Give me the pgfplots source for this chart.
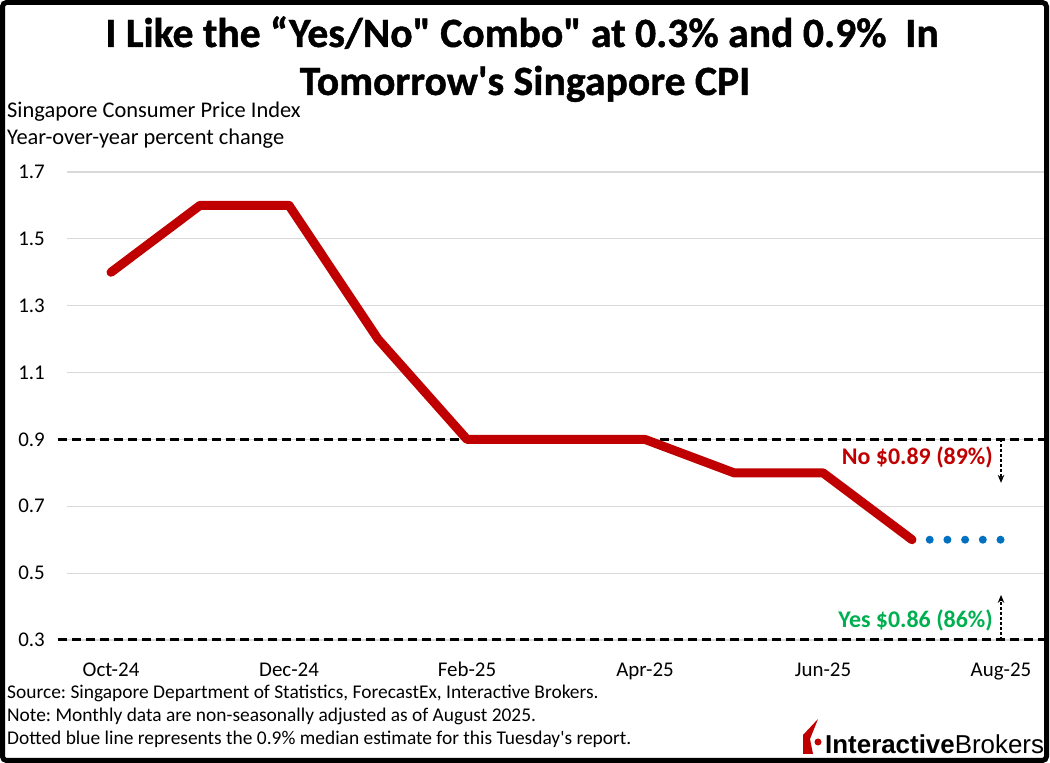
\documentclass[border=0pt]{standalone}
\usepackage{pgfplots}
\pgfplotsset{compat=1.18}
\usepackage{fontspec}
\setmainfont{Carlito}[Ligatures=TeXOff]
\newfontfamily\titlefont{Carlito}[Ligatures=TeXOff, UprightFont={* Bold}, FakeBold=1]
\newfontfamily\logofont{Liberation Sans}
\usetikzlibrary{arrows.meta}

\definecolor{cpired}{RGB}{192,0,0}
\definecolor{estblue}{RGB}{0,112,192}
\definecolor{yesgreen}{RGB}{0,176,80}
\definecolor{gridgray}{RGB}{217,217,217}

\newcommand{\fs}[1]{\fontsize{#1}{#1}\selectfont}
\frenchspacing

\begin{document}
\begin{tikzpicture}[x=1bp,y=1bp]
\useasboundingbox (0,0) rectangle (1050,763);

% Titles
\node[anchor=base, font=\titlefont\fs{41.8}] at (522,716) {I Like the “Yes/No" Combo" at 0.3\% and 0.9\%\hspace{0.45em}In};
\node[anchor=base, font=\titlefont\fs{41.8}] at (525,668) {Tomorrow's Singapore CPI};
\node[anchor=base west, inner sep=0pt, font=\fs{22.5}] at (7,645) {Singapore Consumer Price Index};
\node[anchor=base west, inner sep=0pt, font=\fs{22.5}] at (7,618) {Year-over-year percent change};

\begin{axis}[
  at={(66.5bp,123bp)}, anchor=south west,
  scale only axis, width=979bp, height=468bp,
  xmin=-0.5, xmax=10.5, ymin=0.3, ymax=1.7,
  xtick={0,2,4,6,8,10},
  xticklabels={Oct-24,Dec-24,Feb-25,Apr-25,Jun-25,Aug-25},
  ytick={0.3,0.5,0.7,0.9,1.1,1.3,1.5,1.7},
  /pgf/number format/fixed,
  /pgf/number format/fixed zerofill,
  /pgf/number format/precision=1,
  /pgf/number format/assume math mode=true,
  ticklabel style={font=\fs{21}},
  xticklabel style={anchor=base, inner sep=0pt, yshift=-37bp},
  yticklabel style={anchor=east, inner sep=0pt, xshift=-21.5bp},
  ymajorgrids, grid style={draw=gridgray, line width=1.2bp},
  axis line style={draw=none}, major tick length=0pt,
  clip=false,
]
% Prediction-market thresholds
\addplot[black, line width=3bp, dash pattern=on 9bp off 5bp] coordinates {(-0.6,0.9) (10.5,0.9)};
\addplot[black, line width=3bp, dash pattern=on 9bp off 5bp] coordinates {(-0.6,0.3) (10.5,0.3)};

% Median estimate for August
\addplot[estblue, line width=8bp, line cap=round, dash pattern=on 0bp off 17.7bp] coordinates {(9,0.6) (10,0.6)};

% Singapore CPI, year-over-year
\addplot[cpired, line width=9bp, line cap=round, line join=round] coordinates {
  (0,1.4) (1,1.6) (2,1.6) (3,1.2) (4,0.9) (5,0.9) (6,0.9) (7,0.8) (8,0.8) (9,0.6)};

\draw[black, line width=1.3bp, dash pattern=on 3bp off 2bp, -{Stealth[length=8bp,width=6.5bp]}]
  (axis cs:10,0.9) -- (axis cs:10,0.77);
\draw[black, line width=1.3bp, dash pattern=on 3bp off 2bp, -{Stealth[length=8bp,width=6.5bp]}]
  (axis cs:10,0.3) -- (axis cs:10,0.435);

\node[anchor=base east, inner sep=0pt, text=cpired, font=\bfseries\fs{24}] at (axis cs:9.91,0.8235) {No \$0.89 (89\%)};
\node[anchor=base east, inner sep=0pt, text=yesgreen, font=\bfseries\fs{24}] at (axis cs:9.91,0.336) {Yes \$0.86 (86\%)};
\end{axis}

% Notes
\node[anchor=base west, inner sep=0pt, font=\fs{19.5}] at (7,64) {Source: Singapore Department of Statistics, ForecastEx, Interactive Brokers.};
\node[anchor=base west, inner sep=0pt, font=\fs{19.5}] at (7,41) {Note: Monthly data are non-seasonally adjusted as of August 2025.};
\node[anchor=base west, inner sep=0pt, font=\fs{19.5}] at (7,18) {Dotted blue line represents the 0.9\% median estimate for this Tuesday's report.};

% Logo
\fill[cpired] (803,9) -- (803,28) -- (818,44) -- (810,24) -- (813,9) -- cycle;
\fill[cpired] (818,21) circle (3.5);
\node[anchor=base west, inner sep=0pt, font=\logofont\fs{26}] at (825,9) {\textbf{Interactive}Brokers};

% Frame
\draw[black, line width=5bp, rounded corners=4bp] (2.5,2.5) rectangle (1046.5,760.5);
\end{tikzpicture}
\end{document}
